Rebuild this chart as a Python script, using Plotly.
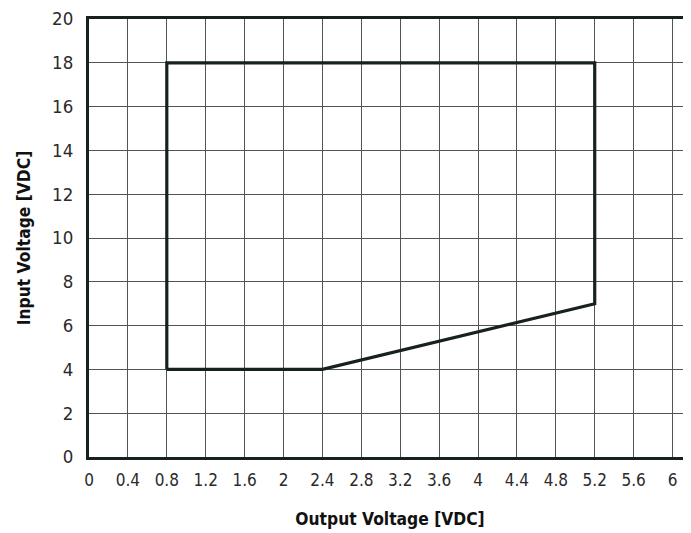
import plotly.graph_objects as go

# Operating area boundary (Output Voltage [VDC], Input Voltage [VDC])
out_v = [0.8, 0.8, 5.2, 5.2, 2.4, 0.8]
in_v = [4, 18, 18, 7, 4, 4]

x_ticks = [0, 0.4, 0.8, 1.2, 1.6, 2, 2.4, 2.8, 3.2, 3.6, 4, 4.4, 4.8, 5.2, 5.6, 6]
x_tick_labels = ["0", "0.4", "0.8", "1.2", "1.6", "2", "2.4", "2.8", "3.2", "3.6", "4",
                 "4.4", "4.8", "5.2", "5.6", "6"]
y_ticks = [0, 2, 4, 6, 8, 10, 12, 14, 16, 18, 20]

font_fam = "DejaVu Sans Condensed, Liberation Sans Narrow, sans-serif"
dark = "#17221e"
grid = "#505654"

fig = go.Figure()
fig.add_trace(go.Scatter(x=out_v, y=in_v, mode="lines",
                         line=dict(color=dark, width=3.2), showlegend=False,
                         hoverinfo="skip"))

fig.update_layout(
    width=683, height=525,
    margin=dict(l=81, r=0, t=11, b=76),
    paper_bgcolor="white", plot_bgcolor="white",
    font=dict(family=font_fam, color="#222"),
    xaxis=dict(
        range=[0, 6.19], tickvals=x_ticks, ticktext=x_tick_labels,
        showgrid=True, gridcolor=grid, gridwidth=1.2,
        showline=True, linecolor=dark, linewidth=3, mirror=True,
        zeroline=False, ticks="", ticklabelstandoff=6,
        tickfont=dict(size=17, color="#2a2a2a"),
        title=dict(text="<b>Output Voltage [VDC]</b>", font=dict(size=17.3, color="#111"),
                   standoff=24),
    ),
    yaxis=dict(
        range=[0, 20], tickvals=y_ticks,
        showgrid=True, gridcolor=grid, gridwidth=1.2,
        showline=True, linecolor=dark, linewidth=3, mirror=False,
        zeroline=False, ticks="", ticklabelstandoff=9,
        tickfont=dict(size=18.5, color="#2a2a2a"),
        title=dict(text="<b>Input Voltage [VDC]</b>", font=dict(size=17.3, color="#111"),
                   standoff=18),
    ),
)

fig.write_html("out.html")
